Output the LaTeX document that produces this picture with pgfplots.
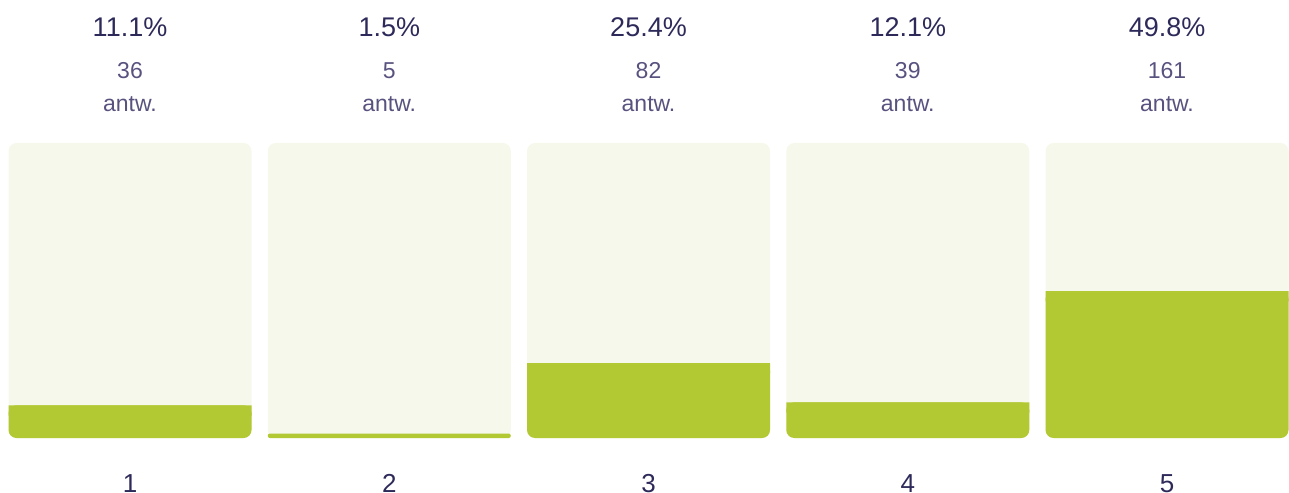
\documentclass[border=0pt]{standalone}
\usepackage{pgfplots}
\pgfplotsset{compat=1.18}
\usepackage{fontspec}
\setmainfont{Liberation Sans}
\definecolor{bg}{HTML}{F6F8EB}
\definecolor{grn}{HTML}{B3C934}
\definecolor{dark}{HTML}{2D2A5A}
\definecolor{mid}{HTML}{58527F}
\pgfplotsset{base/.style={scale only axis, width=1289pt, height=492pt,
  xmin=0.4985, xmax=5.4705, ymin=-18.305, ymax=148.475,
  hide axis, bar width=0.9373, clip=false}}
\begin{document}
\begin{tikzpicture}
\begin{axis}[base, ybar, bar shift=0pt]
\addplot[fill=bg, draw=none, rounded corners=8pt, bar shift=0pt] coordinates {(1,100)(2,100)(3,100)(4,100)(5,100)};
\addplot[fill=grn, draw=none, rounded corners=8pt, bar shift=0pt] coordinates {(1,11.1)(3,25.4)(4,12.1)(5,49.8)};
\addplot[fill=grn, draw=none, rounded corners=2pt, bar shift=0pt] coordinates {(2,1.5)};
\tikzset{pct/.style={anchor=base, text=dark, font=\fontsize{27}{27}\selectfont},
         cnt/.style={anchor=base, text=mid, font=\fontsize{23}{23}\selectfont},
         cat/.style={anchor=base, text=dark, font=\fontsize{26}{26}\selectfont}}
\node[pct] at (axis cs:1,136.0) {11.1\%};
\node[pct] at (axis cs:2,136.0) {1.5\%};
\node[pct] at (axis cs:3,136.0) {25.4\%};
\node[pct] at (axis cs:4,136.0) {12.1\%};
\node[pct] at (axis cs:5,136.0) {49.8\%};
\node[cnt] at (axis cs:1,121.7) {36};
\node[cnt] at (axis cs:2,121.7) {5};
\node[cnt] at (axis cs:3,121.7) {82};
\node[cnt] at (axis cs:4,121.7) {39};
\node[cnt] at (axis cs:5,121.7) {161};
\node[cnt] at (axis cs:1,110.7) {antw.};
\node[cnt] at (axis cs:2,110.7) {antw.};
\node[cnt] at (axis cs:3,110.7) {antw.};
\node[cnt] at (axis cs:4,110.7) {antw.};
\node[cnt] at (axis cs:5,110.7) {antw.};
\node[cat] at (axis cs:1,-18.305) {1};
\node[cat] at (axis cs:2,-18.305) {2};
\node[cat] at (axis cs:3,-18.305) {3};
\node[cat] at (axis cs:4,-18.305) {4};
\node[cat] at (axis cs:5,-18.305) {5};
\end{axis}
\begin{axis}[base, ybar stacked]
\addplot[fill=none, draw=none] coordinates {(1,7.6)(3,21.9)(4,8.6)(5,46.3)};
\addplot[fill=grn, draw=none] coordinates {(1,3.5)(3,3.5)(4,3.5)(5,3.5)};
\end{axis}
\pgfresetboundingbox
\path[use as bounding box] (current axis.south west) rectangle (current axis.north east);
\end{tikzpicture}
\end{document}
